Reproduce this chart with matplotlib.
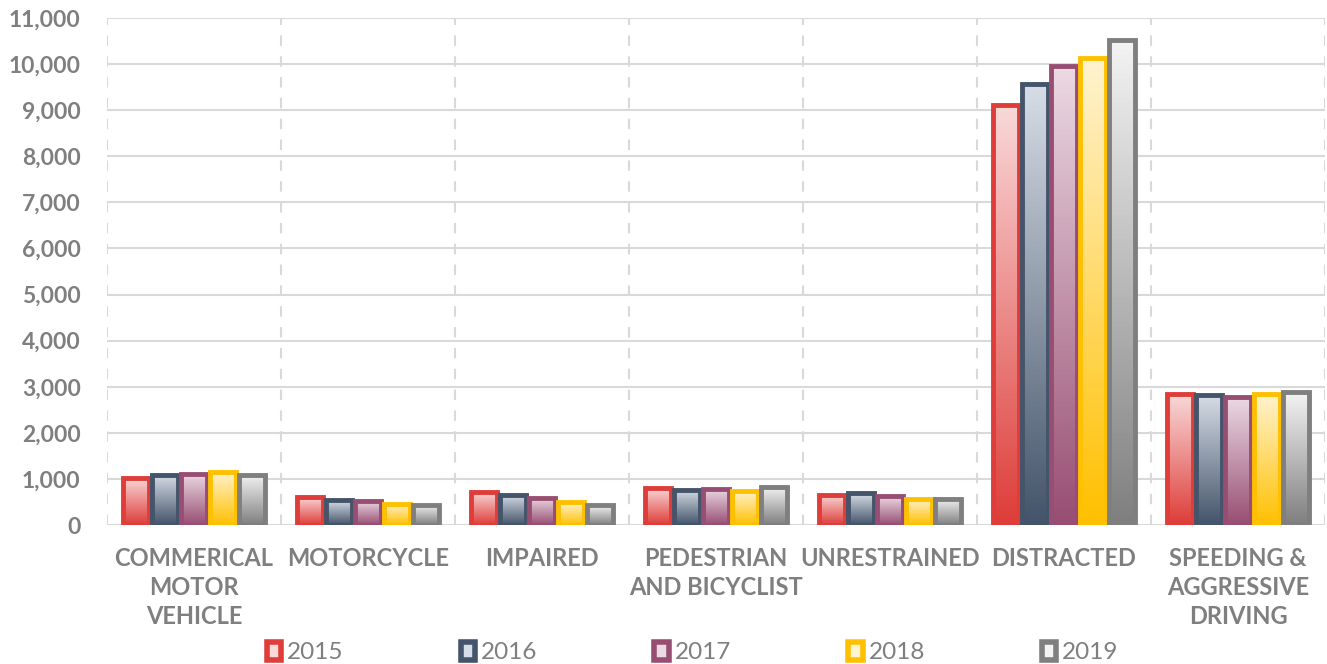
import numpy as np
import matplotlib.pyplot as plt
from matplotlib.colors import LinearSegmentedColormap
from matplotlib.patches import Patch

categories = ['COMMERICAL\nMOTOR\nVEHICLE', 'MOTORCYCLE', 'IMPAIRED', 'PEDESTRIAN\nAND BICYCLIST',
              'UNRESTRAINED', 'DISTRACTED', 'SPEEDING &\nAGGRESSIVE\nDRIVING']
years = ['2015', '2016', '2017', '2018', '2019']
values = {
    '2015': [1020, 610, 720, 805, 655, 9115, 2845],
    '2016': [1090, 540, 655, 770, 690, 9570, 2830],
    '2017': [1110, 525, 590, 790, 620, 9950, 2775],
    '2018': [1150, 465, 490, 740, 570, 10135, 2850],
    '2019': [1090, 440, 430, 830, 570, 10520, 2880],
}
dark = ['#DE3D39', '#44546A', '#984E73', '#FFC000', '#7F7F7F']
light = ['#F9D9D9', '#D6DDE6', '#EBD9E3', '#FFF3D0', '#F3F3F3']

plt.rcParams['font.family'] = ['Lato', 'DejaVu Sans']
txt = '#7F7F7F'

fig = plt.figure(figsize=(13.27, 6.64), dpi=100)
ax = fig.add_axes([107 / 1327, 1 - 525 / 664, 1218 / 1327, 507 / 664])

x = np.arange(len(categories))
w = 0.167
grad = np.linspace(0, 1, 100).reshape(-1, 1)
for i, yr in enumerate(years):
    pos = x + (i - 2) * w
    bars = ax.bar(pos, values[yr], width=w * 0.9, facecolor='none', edgecolor=dark[i],
                  linewidth=3.5, zorder=3, label=yr)
    cmap = LinearSegmentedColormap.from_list('g' + yr, [dark[i], light[i]])
    for b in bars:
        im = ax.imshow(grad, cmap=cmap, aspect='auto', origin='lower', zorder=2,
                       extent=[b.get_x(), b.get_x() + b.get_width(), 0, b.get_height()])
        im.set_clip_path(b)

ax.set_xlim(-0.5, 6.5)
ax.set_ylim(0, 11000)
ax.set_yticks(np.arange(0, 11001, 1000))
ax.set_yticklabels([f'{v:,}' for v in range(0, 11001, 1000)])
ax.set_xticks(x)
ax.set_xticklabels(categories)
ax.set_xticks(np.arange(-0.5, 7, 1), minor=True)
ax.tick_params(axis='y', length=0, pad=19, labelsize=16.5, labelcolor=txt)
ax.tick_params(axis='x', which='both', length=0, pad=16, labelsize=17, labelcolor=txt)
for lab in ax.get_xticklabels() + ax.get_yticklabels():
    lab.set_fontweight('bold')
for lab in ax.get_xticklabels():
    lab.set_linespacing(1.3)
    lab.set_verticalalignment('top')

ax.grid(axis='y', color='#D9D9D9', linewidth=1.5, zorder=0)
ax.grid(axis='x', which='minor', color='#D9D9D9', linewidth=1.5, linestyle=(0, (5, 5)), zorder=0)
for s in ax.spines.values():
    s.set_visible(False)

handles = [Patch(facecolor=light[i], edgecolor=dark[i], linewidth=4) for i in range(5)]
fig.legend(handles, years, loc='lower center', bbox_to_anchor=(0.522, -0.032), ncol=5,
           frameon=False, fontsize=17.5, labelcolor=txt, handlelength=0.6, handleheight=0.8,
           handletextpad=0.25, columnspacing=4.8)

fig.savefig('out.png', dpi=100)
